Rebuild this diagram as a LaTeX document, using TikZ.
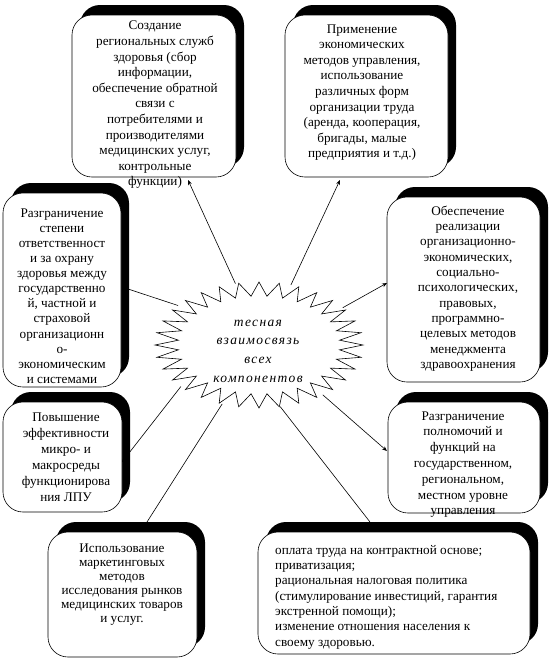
\documentclass[tikz,border=0pt]{standalone}
\usepackage{fontspec}
\setmainfont{Liberation Serif}
\newfontfamily\starfont[LetterSpace=10]{Liberation Serif}
\usetikzlibrary{shadows,calc,arrows.meta,shapes.geometric}
\tikzset{
  boxshape/.style={draw=black, line width=0.6pt, fill=white, rounded corners=20pt,
    inner sep=0pt, outer sep=0pt,
    drop shadow={shadow xshift=8pt, shadow yshift=10pt, fill=black, opacity=1}},
  boxtext/.style={align=center, inner sep=0pt, font=\fontsize{13.2}{15.6}\selectfont},
  link/.style={line width=0.6pt, -{Stealth[length=5pt,width=4pt]}},
  plainlink/.style={line width=0.6pt},
  startext/.style={align=center, inner sep=0pt, font=\starfont\itshape\fontsize{13.5}{18.7}\selectfont},
  starline/.style={draw=black, line width=0.6pt, fill=white},
}
\begin{document}
\begin{tikzpicture}[x=1pt,y=-1pt]
\useasboundingbox[fill=white] (0,0) rectangle (550,665);

% boxes
\node[boxshape, minimum width=164pt, minimum height=162pt] (b1) at (154,96) {};
\node[boxshape, minimum width=163pt, minimum height=162pt] (b2) at (366.5,96) {};
\node[boxshape, minimum width=118pt, minimum height=194pt] (b3) at (62,290) {};
\node[boxshape, minimum width=153pt, minimum height=185pt] (b4) at (463.5,289.5) {};
\node[boxshape, minimum width=119pt, minimum height=110pt] (b5) at (62.5,457) {};
\node[boxshape, minimum width=152pt, minimum height=111pt] (b6) at (464,457.5) {};
\node[boxshape, minimum width=149pt, minimum height=125pt] (b7) at (122.5,594.5) {};
\node[boxshape, minimum width=272pt, minimum height=122pt] (b8) at (394,593) {};

% texts
\node[boxtext] (t1) at (155,105) {Создание\\региональных служб\\здоровья (сбор\\информации,\\обеспечение обратной\\связи с\\потребителями и\\производителями\\медицинских услуг,\\контрольные\\функции)};
\node[boxtext] (t2) at (362,92.5) {Применение\\экономических\\методов управления,\\использование\\различных форм\\организации труда\\(аренда, кооперация,\\бригады, малые\\предприятия и т.д.)};
\node[boxtext, font=\fontsize{13.2}{15.1}\selectfont] (t3) at (62,296) {Разграничение\\степени\\ответственност\\и за охрану\\здоровья между\\государственно\\й, частной и\\страховой\\организационн\\о-\\экономическим\\и системами};
\node[boxtext, font=\fontsize{13.2}{15.3}\selectfont] (t4) at (468,288.5) {Обеспечение\\реализации\\организационно-\\экономических,\\социально-\\психологических,\\правовых,\\программно-\\целевых методов\\менеджмента\\здравоохранения};
\node[boxtext, font=\fontsize{13.2}{16}\selectfont] (t5) at (66,457) {Повышение\\эффективности\\микро- и\\макросреды\\функционирова\\ния ЛПУ};
\node[boxtext, font=\fontsize{13.2}{15.8}\selectfont] (t6) at (463,464.5) {Разграничение\\полномочий и\\функций на\\государственном,\\региональном,\\местном уровне\\управления};
\node[boxtext, font=\fontsize{13.2}{14}\selectfont] (t7) at (122,585) {Использование\\маркетинговых\\методов\\исследования рынков\\медицинских товаров\\и услуг.};
\node[boxtext, align=left, anchor=west, font=\fontsize{13.2}{15.3}\selectfont] (t8) at (275,597) {оплата труда на контрактной основе;\\приватизация;\\рациональная налоговая политика\\(стимулирование инвестиций, гарантия\\экстренной помощи);\\изменение отношения населения к\\своему здоровью.};

% star
\draw[starline] (363,345) \foreach \i in {1,...,63} {
  -- ({259+(92.5+11.5*cos(180*\i))*cos(\i*5.625)},{345+(56+7*cos(180*\i))*sin(\i*5.625)})
} -- cycle;
\node[ellipse, draw=none, minimum width=208pt, minimum height=126pt, inner sep=0pt, outer sep=0pt] (star) at (259,345) {};
\node[startext] (st) at (258,351) {тесная\\взаимосвязь\\всех\\компонентов};

% connectors
\draw[link] (star.111) -- ($(b1.south)+(34,3)$);
\draw[link] (star.62) -- ($(b2.south)+(-26.5,3)$);
\draw[link] (star.154) -- ($(b3.east)+(1,-3)$);
\draw[link] (star.24) -- ($(b4.west)+(0,-6.5)$);
\draw[link] (star.208) -- ($(b5.east)+(0,5)$);
\draw[link] (star.322) -- ($(b6.west)+(-1,-6.5)$);
\draw[plainlink] (star.238) -- ($(b7.north)+(24.5,-10)$);
\draw[plainlink] (star.289) -- ($(b8.north)+(-24,-10)$);
\end{tikzpicture}
\end{document}
